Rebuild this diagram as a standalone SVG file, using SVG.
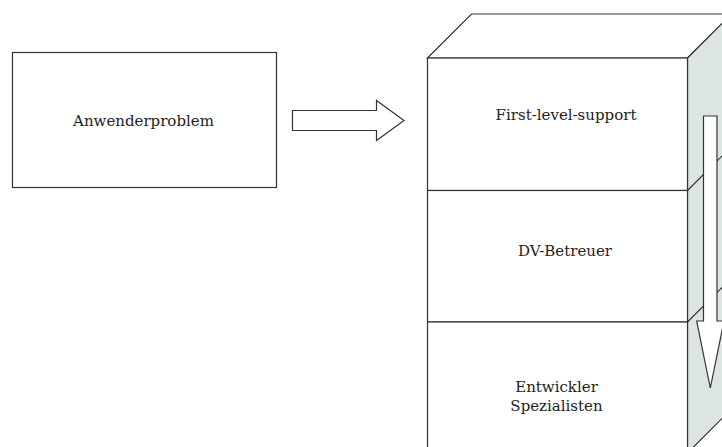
<svg xmlns="http://www.w3.org/2000/svg" width="722" height="447" viewBox="0 0 722 447">
  <style>
    .box { fill: #ffffff; stroke: #333333; stroke-width: 1.2; }
    .side { fill: #dde4e4; stroke: #333333; stroke-width: 1.2; }
    .edge { fill: none; stroke: #333333; stroke-width: 1.2; }
    .arrow { fill: #ffffff; stroke: #333333; stroke-width: 1.2; stroke-linejoin: miter; }
    .lbl { font-family: "DejaVu Serif", "Liberation Serif", serif; font-size: 15px; fill: #222222; text-anchor: middle; }
  </style>

  <!-- user problem box -->
  <g id="anwenderproblem">
    <rect class="box" x="12.5" y="52.5" width="264" height="135"/>
    <text class="lbl" x="143.5" y="126">Anwenderproblem</text>
  </g>

  <!-- escalation stack drawn as a block with three layers -->
  <g id="stack">
    <polygon class="box" points="427.5,58 471.5,14 731.5,14 687.5,58"/>
    <polygon class="side" points="687.5,58 731.5,14 731.5,409 687.5,453"/>
    <line class="edge" x1="687.5" y1="190.5" x2="731.5" y2="146.5"/>
    <line class="edge" x1="687.5" y1="322" x2="731.5" y2="278"/>
  </g>

  <g id="first-level-support">
    <rect class="box" x="427.5" y="58" width="260" height="132.5"/>
    <text class="lbl" x="566" y="120">First-level-support</text>
  </g>

  <g id="dv-betreuer">
    <rect class="box" x="427.5" y="190.5" width="260" height="131.5"/>
    <text class="lbl" x="565" y="256">DV-Betreuer</text>
  </g>

  <g id="entwickler">
    <rect class="box" x="427.5" y="322" width="260" height="131"/>
    <text class="lbl" x="556.5" y="392">Entwickler</text>
    <text class="lbl" x="556.5" y="411">Spezialisten</text>
  </g>

  <!-- block arrows -->
  <g id="connectors">
    <polygon class="arrow" points="292.5,110.5 376.5,110.5 376.5,100.5 404,120.5 376.5,140.5 376.5,130.5 292.5,130.5"/>
    <polygon class="arrow" points="703.5,116 717,116 717,321 724,321 710.3,388 696.7,321 703.5,321"/>
  </g>
</svg>
